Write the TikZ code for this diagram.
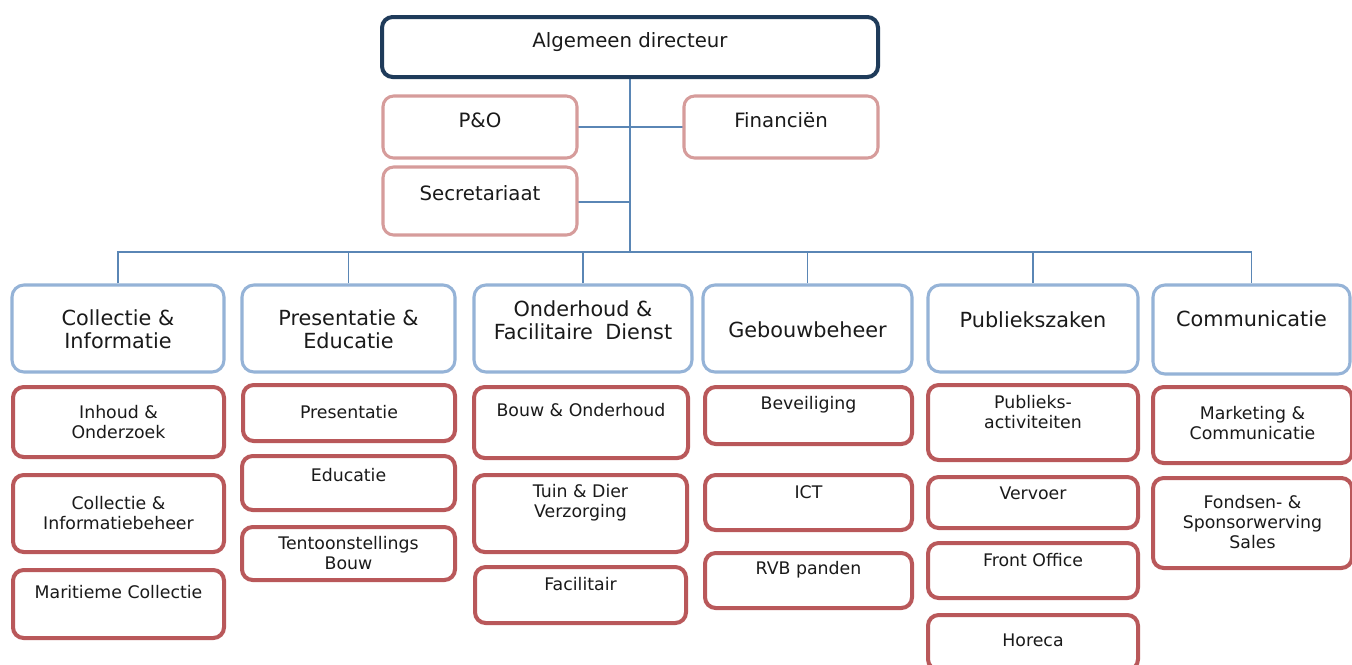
\documentclass[tikz,border=0pt]{standalone}
\usepackage{fontspec}
\setmainfont{DejaVu Sans}
\definecolor{navy}{HTML}{1F3B5A}
\definecolor{pinkb}{HTML}{D69C9B}
\definecolor{blueb}{HTML}{95B3D7}
\definecolor{redb}{HTML}{B9585A}
\definecolor{conn}{HTML}{5A86B5}
\definecolor{txt}{HTML}{1A1A1A}
\tikzset{
  boxnavy/.style={draw=navy, line width=3pt, rounded corners=8pt, fill=white},
  boxpink/.style={draw=pinkb, line width=2.3pt, rounded corners=8pt, fill=white},
  boxblue/.style={draw=blueb, line width=2.3pt, rounded corners=9pt, fill=white},
  boxred/.style={draw=redb, line width=3pt, rounded corners=8pt, fill=white},
  tA/.style={text=txt, align=center, inner sep=0pt, font=\fontsize{14.8}{17}\selectfont},
  tB/.style={text=txt, align=center, inner sep=0pt, font=\fontsize{15.6}{17}\selectfont},
  tC/.style={text=txt, align=center, inner sep=0pt, font=\fontsize{13}{15}\selectfont},
  link/.style={draw=conn, line width=1pt},
}
% #1 name, #2 box style, #3 x1, #4 y1, #5 x2, #6 y2, #7 text y, #8 text style, #9 text
\newcommand{\orgbox}[9]{%
  \node[#2, minimum width={(#5-#3)*0.75pt}, minimum height={(#6-#4)*0.75pt}, inner sep=0pt] (#1) at ({(#3+#5)/2},{(#4+#6)/2}) {};
  \node[#8] (#1t) at ({(#3+#5)/2},#7) {#9};%
}
\begin{document}
\begin{tikzpicture}[x=0.75pt, y=-0.75pt]
\useasboundingbox (0,0) rectangle (1352,664);
\fill[white] (0,0) rectangle (1352,664);

% connectors (drawn first)
\coordinate (bus) at (630,252);
\coordinate (alS) at (630,77);
\draw[link] (alS) -- (bus);
\draw[link] (577,127) -- (684,127);
\draw[link] (577,202) -- (630,202);

% level 1
\orgbox{alg}{boxnavy}{382}{17}{878}{77}{42}{tA}{Algemeen directeur}
\orgbox{po}{boxpink}{383}{96}{577}{158}{120}{tA}{P\&O}
\orgbox{fin}{boxpink}{684}{96}{878}{158}{120}{tA}{Financiën}
\orgbox{sec}{boxpink}{383}{167}{577}{235}{193}{tA}{Secretariaat}

% level 2
\orgbox{c1}{boxblue}{12}{285}{224}{372}{329}{tB}{Collectie \&\\Informatie}
\orgbox{c2}{boxblue}{242}{285}{455}{372}{329}{tB}{Presentatie \&\\Educatie}
\orgbox{c3}{boxblue}{474}{285}{692}{372}{320}{tB}{Onderhoud \&\\Facilitaire\hspace{0.6em}Dienst}
\orgbox{c4}{boxblue}{703}{285}{912}{372}{330}{tB}{Gebouwbeheer}
\orgbox{c5}{boxblue}{928}{285}{1138}{372}{320}{tB}{Publiekszaken}
\orgbox{c6}{boxblue}{1153}{285}{1350}{374}{319}{tB}{Communicatie}

% bus and drops to level 2
\draw[link] (c1.north) -- (c1.north |- bus) -- (c6.north |- bus) -- (c6.north);
\foreach \n in {c2,c3,c4,c5} \draw[link] (\n.north) -- (\n.north |- bus);

% level 3, column 1
\orgbox{a1}{boxred}{13}{387}{224}{457}{422}{tC}{Inhoud \&\\Onderzoek}
\orgbox{a2}{boxred}{13}{475}{224}{552}{513}{tC}{Collectie \&\\Informatiebeheer}
\orgbox{a3}{boxred}{13}{570}{224}{638}{592}{tC}{Maritieme Collectie}
% column 2
\orgbox{b1}{boxred}{243}{385}{455}{441}{412}{tC}{Presentatie}
\orgbox{b2}{boxred}{242}{456}{455}{510}{475}{tC}{Educatie}
\orgbox{b3}{boxred}{242}{527}{455}{580}{553}{tC}{Tentoonstellings\\Bouw}
% column 3
\orgbox{d1}{boxred}{474}{387}{688}{458}{410}{tC}{Bouw \& Onderhoud}
\orgbox{d2}{boxred}{474}{475}{687}{552}{503}{tC}{Tuin \& Dier\\Verzorging}
\orgbox{d3}{boxred}{475}{567}{686}{623}{584}{tC}{Facilitair}
% column 4
\orgbox{e1}{boxred}{705}{387}{912}{444}{405}{tC}{Beveiliging}
\orgbox{e2}{boxred}{705}{475}{912}{530}{492}{tC}{ICT}
\orgbox{e3}{boxred}{705}{553}{912}{608}{570}{tC}{RVB panden}
% column 5
\orgbox{f1}{boxred}{928}{385}{1138}{460}{412}{tC}{Publieks-\\activiteiten}
\orgbox{f2}{boxred}{928}{477}{1138}{528}{493}{tC}{Vervoer}
\orgbox{f3}{boxred}{928}{543}{1138}{598}{560}{tC}{Front Office}
\orgbox{f4}{boxred}{928}{615}{1138}{670}{640}{tC}{Horeca}
% column 6
\orgbox{g1}{boxred}{1153}{387}{1352}{463}{423}{tC}{Marketing \&\\Communicatie}
\orgbox{g2}{boxred}{1153}{478}{1352}{568}{522}{tC}{Fondsen- \&\\Sponsorwerving\\Sales}
\end{tikzpicture}
\end{document}
